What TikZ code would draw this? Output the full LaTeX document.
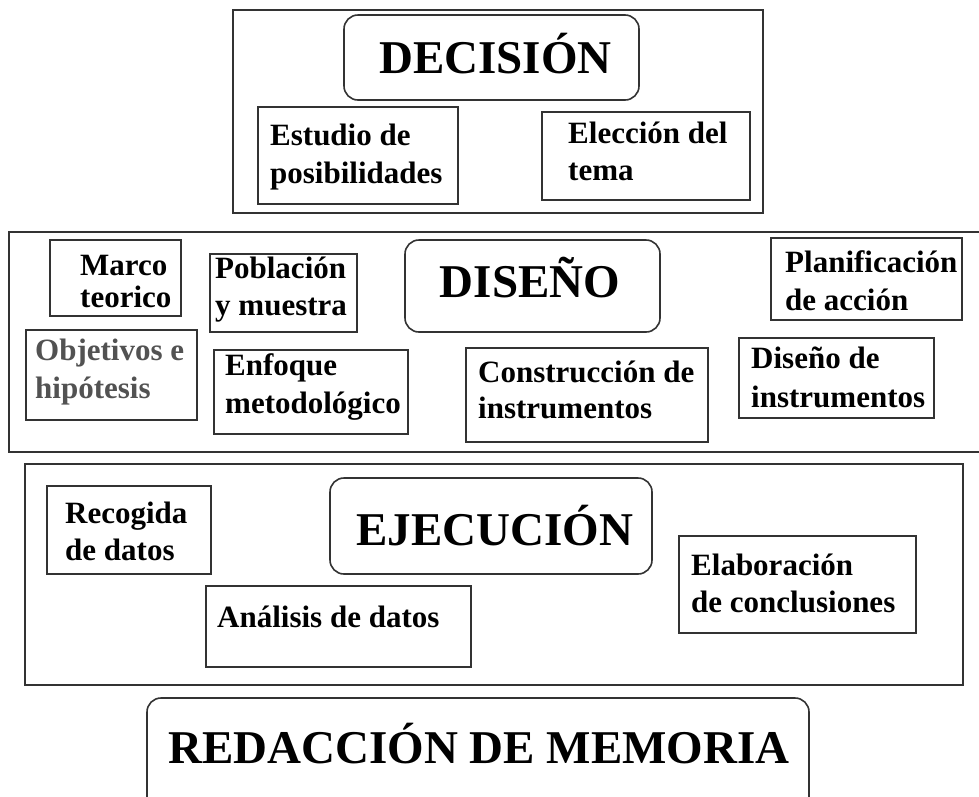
\documentclass[tikz,border=0pt]{standalone}
\usepackage{fontspec}
\setmainfont{Liberation Serif}
\usetikzlibrary{fit}
\newcommand\TwoL[3]{\vtop{\baselineskip=#3pt\lineskiplimit=-20pt\hbox{#1}\hbox{#2}}}
\begin{document}
\begin{tikzpicture}[x=1pt,y=-1pt,
  frame/.style={draw=black!80, line width=1.6pt, inner sep=0pt, outer sep=0pt, rectangle},
  rframe/.style={frame, rounded corners=14pt},
  title/.style={anchor=base, inner sep=0pt, font=\fontsize{47}{56}\selectfont\bfseries},
  lbl/.style={anchor=base west, inner sep=0pt, font=\fontsize{31}{38}\selectfont\bfseries}]
\useasboundingbox[fill=white] (0,0) rectangle (979,796);

% ---------- DECISION ----------
\node[frame, fit={(233,10) (763,213)}] (decOuter) {};
\node[rframe, fit={(344,15) (639,100)}] (decBox) {};
\node[title] (decTitle) at (495.5,73) {DECISIÓN};
\node[frame, fit={(258,107) (458,204)}] (estBox) {};
\node[lbl] (estTxt) at (270,145) {\TwoL{Estudio de}{posibilidades}{38}};
\node[frame, fit={(542,112) (750,200)}] (eleBox) {};
\node[lbl] (eleTxt) at (568,143) {\TwoL{Elección del}{tema}{37}};

% ---------- DISEÑO ----------
\node[frame, fit={(9,232) (995,452)}] (disOuter) {};
\node[rframe, fit={(405,240) (660,332)}] (disBox) {};
\node[title] (disTitle) at (530,297) {DISEÑO};
\node[frame, fit={(50,240) (181,316)}] (marBox) {};
\node[lbl] (marTxt) at (80,275) {\TwoL{Marco}{teorico}{32}};
\node[frame, fit={(210,254) (357,332)}] (pobBox) {};
\node[lbl] (pobTxt) at (215,278) {\TwoL{Población}{y muestra}{37}};
\node[frame, fit={(26,330) (197,420)}] (objBox) {};
\node[lbl, text=black!68] (objTxt) at (35,360) {\TwoL{Objetivos e}{hipótesis}{38}};
\node[frame, fit={(214,350) (408,434)}] (enfBox) {};
\node[lbl] (enfTxt) at (225,375) {\TwoL{Enfoque}{metodológico}{38}};
\node[frame, fit={(466,348) (708,442)}] (conBox) {};
\node[lbl] (conTxt) at (478,382) {\TwoL{Construcción de}{instrumentos}{36}};
\node[frame, fit={(771,238) (962,320)}] (plaBox) {};
\node[lbl] (plaTxt) at (785,272) {\TwoL{Planificación}{de acción}{38}};
\node[frame, fit={(739,338) (934,418)}] (dinBox) {};
\node[lbl] (dinTxt) at (751,368) {\TwoL{Diseño de}{instrumentos}{39}};

% ---------- EJECUCIÓN ----------
\node[frame, fit={(25,464) (963,685)}] (ejeOuter) {};
\node[rframe, fit={(330,478) (652,574)}] (ejeBox) {};
\node[title] (ejeTitle) at (495,545) {EJECUCIÓN};
\node[frame, fit={(47,486) (211,574)}] (recBox) {};
\node[lbl] (recTxt) at (65,523) {\TwoL{Recogida}{de datos}{37}};
\node[frame, fit={(206,586) (471,667)}] (anaBox) {};
\node[lbl] (anaTxt) at (217,627) {Análisis de datos};
\node[frame, fit={(679,536) (916,633)}] (elaBox) {};
\node[lbl] (elaTxt) at (691,575) {\TwoL{Elaboración}{de conclusiones}{37}};

% ---------- REDACCIÓN ----------
\node[rframe, fit={(147,698) (809,840)}] (redBox) {};
\node[title] (redTitle) at (479,763) {REDACCIÓN DE MEMORIA};
\end{tikzpicture}
\end{document}
